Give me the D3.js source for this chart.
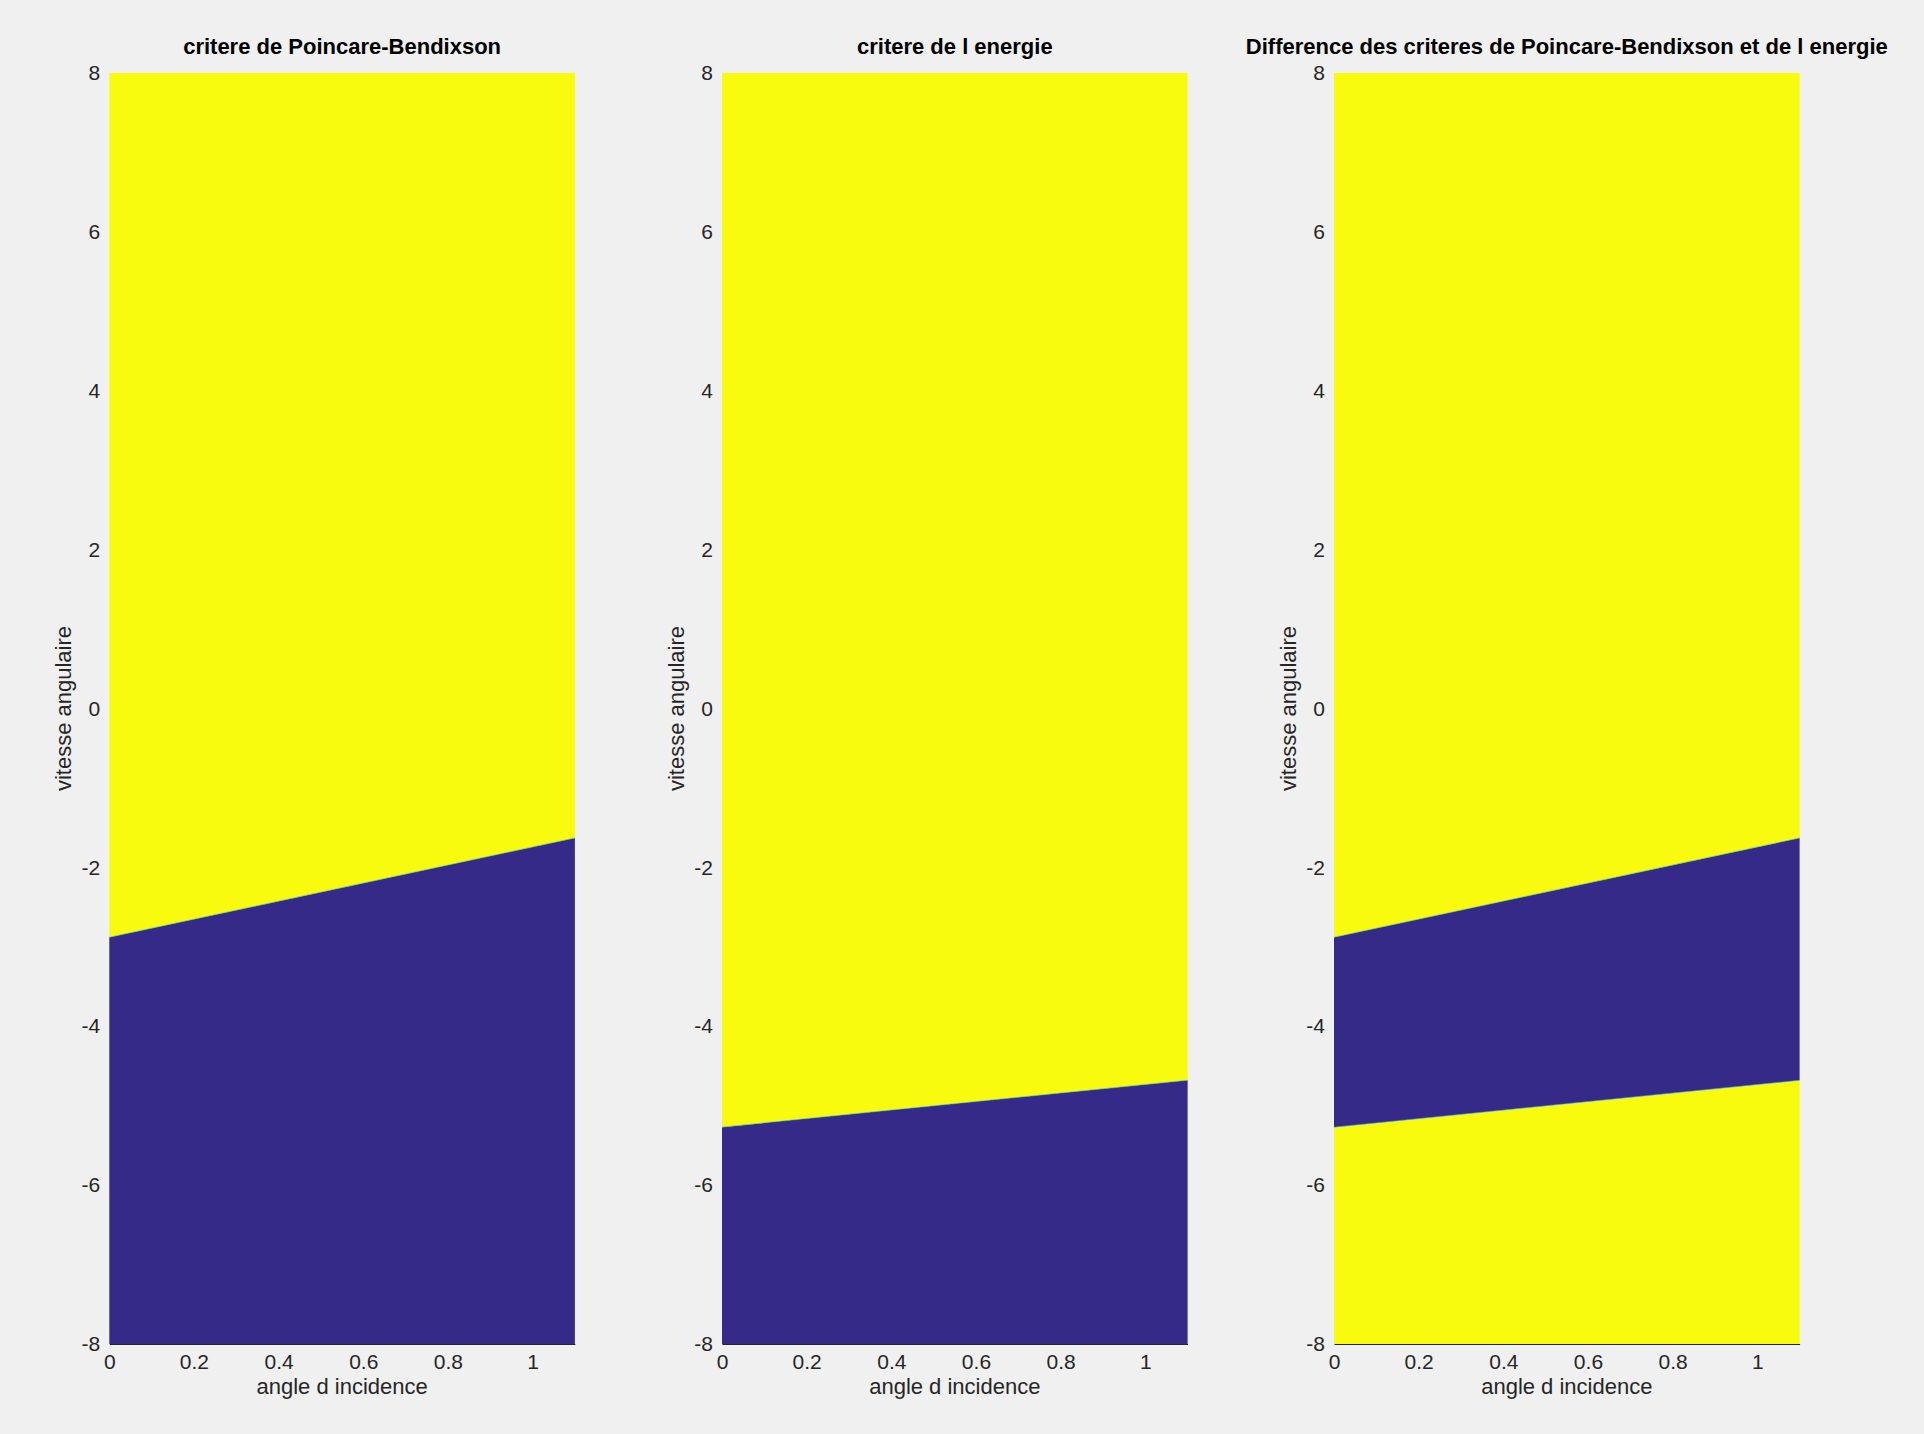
<!DOCTYPE html>
<html>
<head>
<meta charset="utf-8">
<script src="https://cdn.jsdelivr.net/npm/d3@7"></script>
<style>
  body { margin: 0; background: #f0f0f0; }
  svg { display: block; }
  text { font-family: "Liberation Sans", Arial, sans-serif; }
</style>
</head>
<body>
<svg id="draw"></svg>
<script>
// boundary of each criterion (angle in rad, vitesse angulaire)
const angle = [0, 1.1];
const pbBoundary = [-2.88, -1.63];
const energyBoundary = [-5.27, -4.68];

const xTicks = [0, 0.2, 0.4, 0.6, 0.8, 1];
const yTicks = [-8, -6, -4, -2, 0, 2, 4, 6, 8];
const xDomain = [0, 1.1];
const yDomain = [-8, 8];

const titles = [
  "critere de Poincare-Bendixson",
  "critere de l energie",
  "Difference des criteres de Poincare-Bendixson et de l energie"
];

const blue = "#352a87";
const yellow = "#f9fb0e";

const width = 1924;
const height = 1434;
const panelLeft = [109.3, 722, 1334];
const panelTop = 73;
const panelW = 465.6;
const panelH = 1271;

var bottomEdge = angle.map(d => yDomain[0]);
var topEdge = angle.map(d => yDomain[1]);

// bands: [lower boundary, upper boundary, colour]
var panels = [
  [[bottomEdge, pbBoundary, blue], [pbBoundary, topEdge, yellow]],
  [[bottomEdge, energyBoundary, blue], [energyBoundary, topEdge, yellow]],
  [[bottomEdge, energyBoundary, yellow], [energyBoundary, pbBoundary, blue], [pbBoundary, topEdge, yellow]]
];
var edges = [[pbBoundary], [energyBoundary], [pbBoundary, energyBoundary]];

var svg = d3.select("#draw")
  .attr("width", width)
  .attr("height", height);

var x = d3.scaleLinear().domain(xDomain).range([0, panelW]);
var y = d3.scaleLinear().domain(yDomain).range([panelH, 0]);

// matlab style labels, plain hyphen for minus
var fmt = d => String(d);

panels.forEach(function(bands, k) {
  var g = svg.append("g")
    .attr("transform", "translate(" + panelLeft[k] + "," + panelTop + ")");

  bands.forEach(function(b) {
    var area = d3.area()
      .x((d, i) => x(angle[i]))
      .y0((d, i) => y(b[0][i]))
      .y1((d, i) => y(b[1][i]));
    g.append("path")
      .attr("d", area(angle))
      .attr("fill", b[2]);
  });

  // thin light edge where the colour changes
  edges[k].forEach(function(e) {
    var line = d3.line()
      .x((d, i) => x(angle[i]))
      .y((d, i) => y(e[i]));
    g.append("path")
      .attr("d", line(angle))
      .attr("fill", "none")
      .attr("stroke", "#3aa6d6")
      .attr("stroke-opacity", 0.6)
      .attr("stroke-width", 1);
  });

  var xAxis = g.append("g")
    .attr("transform", "translate(0," + panelH + ")")
    .call(d3.axisBottom(x).tickValues(xTicks).tickSize(0).tickPadding(10)
      .tickFormat(fmt));
  xAxis.select(".domain").attr("stroke", "#262626").attr("stroke-width", 1.2);
  xAxis.selectAll("text").attr("font-size", 21).attr("fill", "#262626")
    .attr("font-family", "Liberation Sans, Arial, sans-serif");

  var yAxis = g.append("g")
    .call(d3.axisLeft(y).tickValues(yTicks).tickSize(0).tickPadding(9)
      .tickFormat(fmt));
  yAxis.select(".domain").remove();
  yAxis.selectAll("text").attr("font-size", 21).attr("fill", "#262626")
    .attr("font-family", "Liberation Sans, Arial, sans-serif");

  g.append("text")
    .attr("x", panelW / 2)
    .attr("y", panelH + 50)
    .attr("text-anchor", "middle")
    .attr("font-size", 22)
    .attr("fill", "#262626")
    .text("angle d incidence");

  g.append("text")
    .attr("transform", "translate(" + (-38) + "," + (panelH / 2) + ") rotate(-90)")
    .attr("text-anchor", "middle")
    .attr("font-size", 22)
    .attr("fill", "#262626")
    .text("vitesse angulaire");

  g.append("text")
    .attr("x", panelW / 2)
    .attr("y", -19)
    .attr("text-anchor", "middle")
    .attr("font-size", 22)
    .attr("font-weight", "bold")
    .attr("fill", "#000")
    .text(titles[k]);
});
</script>
</body>
</html>
